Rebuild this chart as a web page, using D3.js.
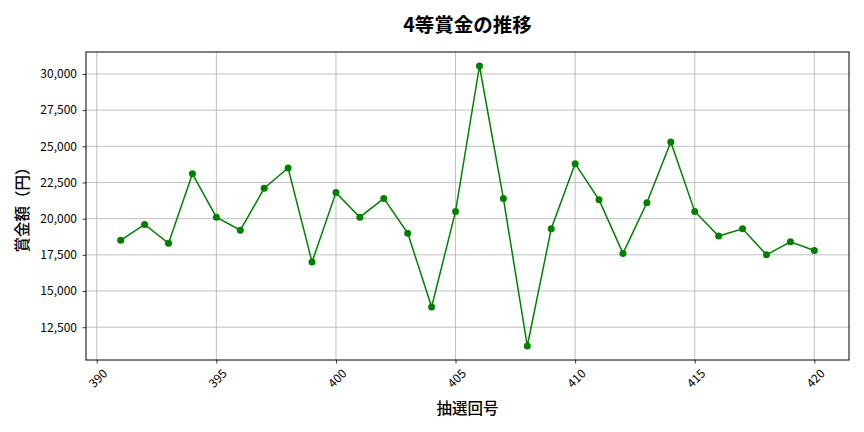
<!DOCTYPE html>
<html>
<head>
<meta charset="utf-8">
<script src="https://cdn.jsdelivr.net/npm/d3@7"></script>
<style>
  body { margin: 0; background: #fff; }
  text { font-family: "Noto Sans CJK JP", "Noto Sans", sans-serif; }
</style>
</head>
<body>
<div id="chart"></div>
<script>
//draw numbers and 4th prize amounts (yen)
var draws = [391, 392, 393, 394, 395, 396, 397, 398, 399, 400,
             401, 402, 403, 404, 405, 406, 407, 408, 409, 410,
             411, 412, 413, 414, 415, 416, 417, 418, 419, 420];
var prizes = [18500, 19600, 18300, 23100, 20100, 19200, 22100, 23500, 17000, 21800,
              20100, 21400, 19000, 13900, 20500, 30550, 21400, 11200, 19300, 23800,
              21300, 17600, 21100, 25300, 20500, 18800, 19300, 17500, 18400, 17800];
var xTicks = [390, 395, 400, 405, 410, 415, 420];
var yTicks = [12500, 15000, 17500, 20000, 22500, 25000, 27500, 30000];

var W = 864, H = 432;
var margin = {top: 52, left: 86, right: 15, bottom: 72};
var w = W - margin.left - margin.right;
var h = H - margin.top - margin.bottom;

var svg = d3.select("#chart").append("svg")
  .attr("width", W)
  .attr("height", H);

//matplotlib style 5% padding on the data range
var xPad = (d3.max(draws) - d3.min(draws)) * 0.05;
var yPad = (d3.max(prizes) - d3.min(prizes)) * 0.05;

var x = d3.scaleLinear()
  .domain([d3.min(draws) - xPad, d3.max(draws) + xPad])
  .range([0, w]);
var y = d3.scaleLinear()
  .domain([d3.min(prizes) - yPad, d3.max(prizes) + yPad])
  .range([h, 0]);

var g = svg.append("g")
  .attr("transform", "translate(" + margin.left + "," + margin.top + ")");

//grid
var grid = g.append("g").attr("class", "grid");
grid.selectAll("line.v").data(xTicks).enter().append("line")
  .attr("class", "v")
  .attr("x1", function(d) { return x(d); })
  .attr("x2", function(d) { return x(d); })
  .attr("y1", 0).attr("y2", h)
  .attr("stroke", "#b0b0b0").attr("stroke-width", 0.8);
grid.selectAll("line.h").data(yTicks).enter().append("line")
  .attr("class", "h")
  .attr("x1", 0).attr("x2", w)
  .attr("y1", function(d) { return y(d); })
  .attr("y2", function(d) { return y(d); })
  .attr("stroke", "#b0b0b0").attr("stroke-width", 0.8);

//axes
var xAxis = g.append("g")
  .attr("transform", "translate(0," + h + ")")
  .call(d3.axisBottom(x).tickValues(xTicks).tickSize(3.5).tickFormat(d3.format("d")));
//rotated labels centred under the tick
xAxis.selectAll("text")
  .attr("font-size", 12)
  .attr("text-anchor", "middle")
  .attr("dominant-baseline", "central")
  .attr("x", 0).attr("y", 0).attr("dy", null)
  .attr("transform", "translate(0,17.5) rotate(-45)");

var yAxis = g.append("g")
  .call(d3.axisLeft(y).tickValues(yTicks).tickSize(3.5).tickPadding(5.5).tickFormat(d3.format(",")));
yAxis.selectAll("text").attr("font-size", 12);

svg.selectAll(".domain").remove();
svg.selectAll(".tick line").attr("stroke", "#000").attr("stroke-width", 0.8);
svg.selectAll(".tick text").attr("fill", "#000").attr("font-family", "\"Noto Sans CJK JP\", sans-serif");

//frame
g.append("rect")
  .attr("width", w).attr("height", h)
  .attr("fill", "none").attr("stroke", "#000").attr("stroke-width", 1);

//line and markers
var line = d3.line()
  .x(function(d, i) { return x(draws[i]); })
  .y(function(d) { return y(d); });

g.append("path")
  .datum(prizes)
  .attr("d", line)
  .attr("fill", "none")
  .attr("stroke", "green")
  .attr("stroke-width", 1.5);

g.append("g").selectAll("circle")
  .data(prizes).enter().append("circle")
  .attr("cx", function(d, i) { return x(draws[i]); })
  .attr("cy", function(d) { return y(d); })
  .attr("r", 3.5)
  .attr("fill", "green");

//title and labels
svg.append("text")
  .attr("x", margin.left + w / 2).attr("y", 32)
  .attr("text-anchor", "middle")
  .attr("font-size", 19.5).attr("font-weight", "bold")
  .text("4等賞金の推移");

svg.append("text")
  .attr("x", margin.left + w / 2).attr("y", 414)
  .attr("text-anchor", "middle")
  .attr("font-size", 15.5).attr("font-weight", 500)
  .text("抽選回号");

svg.append("text")
  .attr("transform", "translate(28," + (margin.top + h / 2) + ") rotate(-90)")
  .attr("text-anchor", "middle")
  .attr("font-size", 15.5).attr("font-weight", 500)
  .text("賞金額（円）");
</script>
</body>
</html>
